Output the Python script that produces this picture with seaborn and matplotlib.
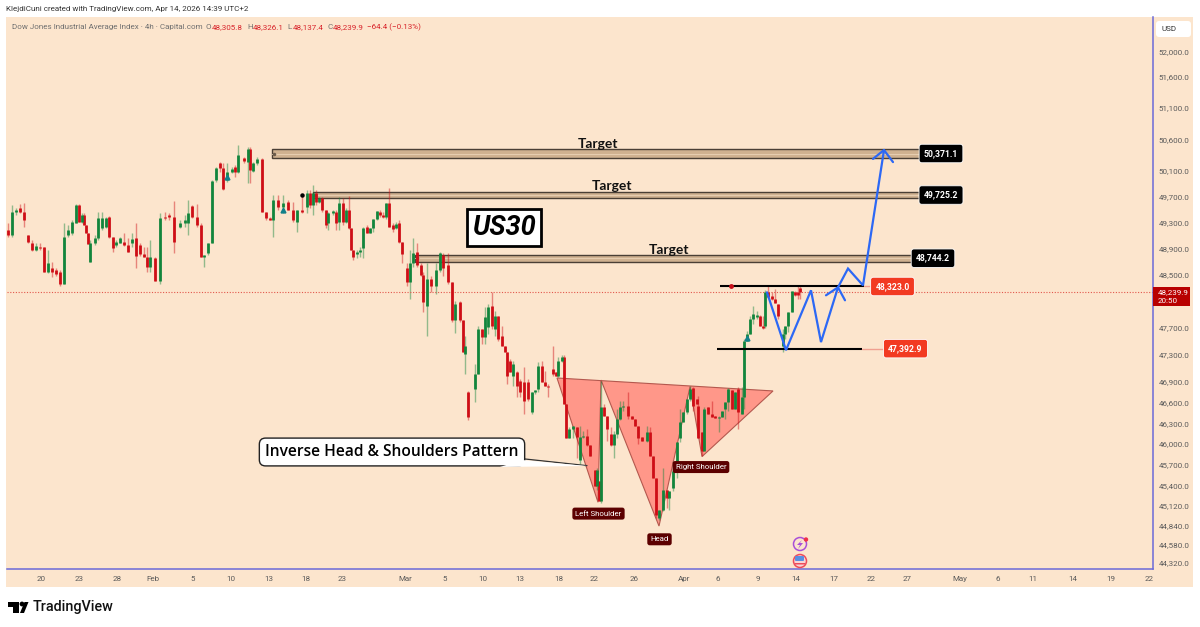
import matplotlib
matplotlib.use('Agg')
import matplotlib.pyplot as plt
from matplotlib.patches import Rectangle, Polygon, Circle, FancyBboxPatch
import seaborn as sns
import pandas as pd

# ---------------------------------------- #
#   US30 4h candles    #
# ---------------------------------------- #

# bar_x = session position along the time axis
bar_x = [8, 12, 16, 20, 24, 28, 32, 36, 40, 44,
         48, 52, 56, 60, 64, 68, 72, 76, 79, 82,
         84, 86, 88, 90, 95, 98, 102, 106, 109, 113,
         116, 120, 124, 128, 132, 136, 140, 144, 147, 150,
         155, 160, 165, 169, 174, 180, 185, 188, 192, 197,
         201, 204, 208, 212, 216, 220, 223, 227, 232, 235,
         238, 244, 248, 250, 253, 257, 262, 266, 270, 273,
         278, 283, 288, 293, 297, 302, 307, 310, 313, 316,
         319, 322, 326, 328, 333, 336, 339, 343, 346, 349,
         351, 353, 357, 360, 363, 367, 370, 373, 377, 380,
         383, 386, 389, 393, 396, 399, 402, 407, 410, 413,
         417, 421, 423, 427, 431, 436, 440, 443, 448, 452,
         455, 460, 463, 465, 468, 475, 478, 482, 485, 488,
         492, 495, 498, 502, 505, 507, 510, 513, 517, 520,
         524, 528, 532, 535, 538, 542, 545, 548, 553, 556,
         558, 562, 564, 566, 569, 573, 577, 580, 583, 587,
         590, 595, 597, 599, 601, 604, 607, 611, 614, 617,
         620, 623, 628, 632, 635, 638, 642, 647, 650, 653,
         656, 659, 663, 667, 669, 673, 677, 680, 683, 687,
         690, 693, 697, 698, 702, 704, 708, 712, 715, 719,
         722, 725, 728, 732, 735, 738, 742, 744, 747, 750,
         753, 757, 760, 763, 765, 768, 772, 775, 778, 783,
         785, 788, 792, 795, 798, 800]

opens = [49185, 49110, 49465, 49525, 49465, 49110, 48990, 48880, 48925, 48925,
         48535, 48610, 48580, 48535, 48355, 49110, 49140, 49295, 49570, 49310,
         49415, 49265, 49140, 48700, 48990, 49065, 49215, 49230, 49385, 49080,
         48960, 48990, 49005, 48960, 48990, 49065, 48960, 48820, 48775, 48625,
         48760, 48400, 49385, 49415, 49385, 49230, 49295, 49295, 49555, 49385,
         49265, 48775, 48835, 48990, 49960, 50225, 50150, 49960, 50085, 50165,
         50085, 50305, 50240, 50445, 50100, 50225, 50290, 49465, 49370, 49340,
         49650, 49540, 49615, 49495, 49310, 49495, 49540, 49755, 49570, 49755,
         49615, 49680, 49495, 49295, 49445, 49465, 49310, 49600, 49310, 49495,
         49215, 48880, 48820, 48850, 48910, 49230, 49140, 49215, 49355, 49465,
         49415, 49385, 49600, 49265, 49215, 49295, 49005, 48610, 48385, 48685,
         48850, 48655, 48490, 48025, 48430, 48325, 48580, 48805, 48655, 48385,
         47815, 48085, 47815, 47310, 46755, 46800, 47020, 47680, 47565, 47710,
         48025, 47680, 47875, 47575, 47430, 47340, 47210, 46990, 47050, 46915,
         46900, 46900, 46465, 46755, 46800, 47135, 46900, 46845, 47090, 47050,
         46990, 47210, 47270, 46580, 46080, 46220, 46250, 45765, 46105, 46120,
         45980, 45625, 45395, 45465, 45185, 46540, 46410, 46150, 45980, 46150,
         46365, 46540, 46555, 46410, 46365, 46265, 46105, 46050, 46180, 45835,
         45510, 44945, 45060, 45340, 45225, 45370, 45610, 46080, 46320, 46465,
         46655, 46815, 46655, 46555, 46180, 45895, 46540, 46440, 46410, 46380,
         46395, 46510, 46610, 46785, 46510, 46800, 46440, 46685, 47505, 47605,
         47830, 47860, 47875, 47725, 47725, 48235, 48175, 48130, 48055, 47430,
         47605, 47725, 47935, 48235, 48235, 48305.8]

highs = [49295, 49570, 49525, 49585, 49600, 49110, 49035, 48990, 48990, 48925,
         48880, 48700, 48610, 48580, 49295, 49265, 49340, 49585, 49585, 49445,
         49445, 49265, 49140, 49035, 49110, 49465, 49465, 49385, 49400, 49080,
         49035, 49080, 49140, 49065, 49140, 49295, 48990, 48925, 48925, 49035,
         48775, 49445, 49465, 49445, 49635, 49340, 49415, 49650, 49570, 49585,
         49295, 48805, 48990, 49960, 50165, 50240, 50225, 50225, 50165, 50195,
         50505, 50320, 50475, 50475, 50240, 50320, 50305, 49465, 49385, 49725,
         49725, 49725, 49650, 49615, 49495, 49725, 49805, 49805, 49880, 49805,
         49695, 49695, 49495, 49465, 49495, 49495, 49695, 49680, 49525, 49710,
         49215, 48880, 48880, 48925, 49230, 49265, 49215, 49355, 49480, 49495,
         49465, 49600, 49835, 49295, 49310, 49340, 49005, 48685, 48880, 49065,
         48990, 48685, 48535, 48685, 48475, 48685, 48850, 48835, 48835, 48385,
         48100, 48100, 47815, 47575, 46770, 47165, 47725, 47680, 48010, 48055,
         48235, 47950, 47875, 47725, 47430, 47340, 47240, 47210, 47065, 46945,
         47120, 46945, 46755, 46785, 47195, 47210, 47065, 46870, 47430, 47050,
         47270, 47295, 47295, 46580, 46250, 46265, 46250, 46265, 46195, 46220,
         45980, 45625, 45650, 45465, 46915, 46580, 46410, 46250, 46190, 46510,
         46625, 46625, 46755, 46410, 46365, 46265, 46105, 46265, 46250, 45835,
         45510, 45060, 45650, 45340, 45325, 45750, 46035, 46510, 46465, 46655,
         46845, 46830, 46655, 46700, 46180, 46540, 46540, 46625, 46410, 46410,
         46480, 46610, 46815, 46785, 46755, 46830, 46830, 47535, 47650, 47875,
         48025, 47950, 47890, 47875, 48265, 48325, 48235, 48280, 48055, 47680,
         47725, 47935, 48250, 48250, 48325, 48326.1]

lows = [49080, 49080, 49415, 49445, 49230, 48990, 48865, 48865, 48880, 48535,
        48520, 48460, 48475, 48325, 48355, 49080, 49110, 49295, 49310, 49295,
        49265, 49140, 48970, 48700, 48960, 49035, 49185, 49215, 49065, 48850,
        48925, 48990, 48945, 48850, 48925, 48610, 48790, 48775, 48550, 48535,
        48400, 48355, 49340, 49340, 48835, 49215, 49230, 49110, 49370, 49230,
        48775, 48625, 48805, 48990, 49925, 50085, 49805, 49925, 50070, 50005,
        50070, 50225, 49910, 49910, 50085, 50195, 49465, 49340, 49340, 49080,
        49495, 49445, 49495, 49310, 49155, 49445, 49445, 49525, 49415, 49570,
        49600, 49465, 49215, 49185, 49415, 49185, 49185, 49265, 49295, 49200,
        48880, 48730, 48760, 48775, 48760, 49140, 49140, 49155, 49340, 49385,
        49370, 49355, 49230, 49155, 49200, 48990, 48685, 48325, 48130, 48625,
        48625, 48475, 47935, 47585, 48235, 48205, 48550, 48475, 48355, 47785,
        47620, 47785, 47340, 47020, 46350, 46610, 47020, 47460, 47460, 47605,
        47680, 47575, 47505, 47430, 47340, 46870, 47050, 46845, 46685, 46685,
        46440, 46625, 46440, 46730, 46755, 46900, 46845, 46685, 46990, 46990,
        46975, 47195, 46580, 46080, 46080, 46080, 45795, 45720, 46080, 45965,
        45835, 45395, 45340, 45185, 45155, 46410, 46050, 45965, 45795, 46080,
        46350, 46480, 46365, 46365, 46265, 46005, 46050, 46035, 45835, 45510,
        44945, 44920, 45045, 45085, 45060, 45325, 45510, 46035, 46320, 46430,
        46625, 46480, 46580, 46080, 45835, 45895, 46440, 46395, 46380, 46180,
        46395, 46365, 46480, 46510, 46510, 46220, 46440, 46510, 47505, 47605,
        47755, 47830, 47725, 47680, 47695, 48145, 48115, 48070, 47830, 47340,
        47535, 47635, 47935, 48175, 48130, 48137.4]

closes = [49110, 49465, 49495, 49465, 49340, 49005, 48880, 48945, 48915, 48535,
          48685, 48535, 48505, 48355, 49080, 49185, 49310, 49570, 49310, 49415,
          49265, 49140, 48975, 48990, 49065, 49370, 49370, 49370, 49080, 48910,
          49005, 49065, 48960, 48850, 49050, 48790, 48820, 48775, 48625, 48775,
          48400, 49370, 49370, 49385, 49005, 49295, 49340, 49445, 49385, 49265,
          48775, 48805, 48990, 49940, 50150, 50150, 49820, 50085, 50130, 50085,
          50350, 50255, 50445, 50115, 50225, 50290, 49465, 49370, 49340, 49650,
          49540, 49600, 49495, 49340, 49495, 49465, 49755, 49570, 49755, 49615,
          49680, 49495, 49265, 49445, 49480, 49295, 49600, 49310, 49495, 49215,
          48880, 48775, 48850, 48880, 49215, 49140, 49215, 49355, 49480, 49415,
          49385, 49600, 49230, 49200, 49280, 49005, 48820, 48385, 48685, 48835,
          48655, 48490, 48085, 48430, 48325, 48580, 48835, 48610, 48385, 47815,
          48055, 47815, 47340, 47430, 46395, 47020, 47680, 47565, 47860, 48010,
          47725, 47875, 47535, 47430, 47340, 46990, 47050, 47165, 46845, 46755,
          46625, 46655, 46755, 46785, 47135, 46900, 46845, 46830, 47020, 46990,
          47210, 47270, 46580, 46080, 46220, 46265, 46105, 46105, 46120, 45980,
          45835, 45395, 45625, 45185, 46540, 46410, 46220, 45980, 46150, 46365,
          46540, 46555, 46410, 46365, 46265, 46080, 46050, 46180, 45835, 45510,
          44990, 45060, 45340, 45225, 45325, 45610, 46035, 46320, 46465, 46655,
          46800, 46555, 46580, 46080, 45895, 46510, 46440, 46395, 46380, 46395,
          46480, 46610, 46800, 46510, 46755, 46465, 46685, 47505, 47605, 47830,
          47905, 47890, 47725, 47695, 48235, 48160, 48130, 48070, 47875, 47605,
          47725, 47935, 48250, 48190, 48190, 48239.9]

# axis labels
price_ticks = [52000, 51600, 51100, 50600, 50100, 49700, 49300, 48900, 48500,
               47700, 47300, 46900, 46600, 46300, 46000, 45700, 45400, 45120,
               44840, 44580, 44320]
date_ticks = [41, 79, 117, 153, 193, 231, 269, 306, 342, 405, 445, 483, 520, 559,
              594, 634, 684, 718, 758, 796, 834, 871, 907, 960, 998, 1033, 1073,
              1111, 1149]
date_labels = ['20', '23', '28', 'Feb', '5', '10', '13', '18', '23', 'Mar', '5', '10',
               '13', '18', '22', '26', 'Apr', '6', '9', '14', '17', '22', '27', 'May',
               '6', '11', '14', '19', '22']

# drawings
zone_start = [272, 313, 415]
zone_end = [920, 920, 912]
zone_low = [50305, 49680, 48700]
zone_high = [50445, 49770, 48805]
zone_level = ['50,371.1', '49,725.2', '48,744.2']
target_x = [598, 612, 669]
target_price = [50520, 49865, 48880]

pattern_x = [557, 598, 601, 659, 690, 702, 773]
pattern_price = [46960, 45170, 46930, 44835, 46830, 45820, 46770]

path_x = [767, 786, 811, 821, 838, 848, 863, 884]
path_price = [48235, 47370, 48265, 47490, 48310, 48595, 48340, 50430]
head1_x = [826, 838, 845]
head1_price = [48190, 48310, 48115]
head2_x = [873, 884, 893]
head2_price = [50290, 50430, 50240]

signal_x = [227, 283, 747]
signal_price = [50005, 49495, 47550]

last_price = 48239.9
resist = 48323.0
support = 47392.9

PEACH = '#FCE5CD'
GREEN = '#12853C'
RED = '#CE0E16'
AXIS_BLUE = '#6A6AD8'
GREY = '#5A5A5A'
SMALL = 5.75

sns.set_theme(style='white')
plt.rcParams['font.family'] = ['Roboto', 'DejaVu Sans']

W, H = 1200, 627
fig = plt.figure(figsize=(W / 100, H / 100), dpi=100, facecolor='white')
inches = fig.dpi_scale_trans


def fx(px):
    return px / W


def fy(py):
    return 1 - py / H


def pt(px, py):
    # pixel position from the top left, in inches for dpi_scale_trans
    return px / 100, (H - py) / 100


def px_box(x0, y0, x1, y1, color, radius=0.0, z=9):
    patch = FancyBboxPatch(pt(x0, y1), (x1 - x0) / 100, (y1 - y0) / 100, transform=inches,
                           boxstyle=f'round,pad=0,rounding_size={radius}', fc=color, ec='none', zorder=z)
    fig.add_artist(patch)


def px_circle(x, y, r, fc, ec='none', lw=0.0, z=9):
    fig.add_artist(Circle(pt(x, y), r / 100, transform=inches, fc=fc, ec=ec, lw=lw, zorder=z))


# peach panel behind everything
px_box(6, 17, 1193, 587, PEACH, z=-5)

ax = fig.add_axes([fx(7), fy(569), fx(1153) - fx(7), fy(17) - fy(569)])
ax.patch.set_alpha(0)
ax.set_yscale('log')
ax.set_xlim(7, 1153)
ax.set_ylim(44237, 52572)

# Candles as long tables so seaborn can draw each wick and body
candles = pd.DataFrame({'x': bar_x, 'open': opens, 'high': highs, 'low': lows, 'close': closes})
candles['up'] = candles['close'] >= candles['open']
wicks = candles.melt(id_vars=['x', 'up'], value_vars=['high', 'low'], value_name='price')
bodies = candles.melt(id_vars=['x', 'up'], value_vars=['open', 'close'], value_name='price')
palette = {True: GREEN, False: RED}

# inverse head and shoulders underlay
ax.add_patch(Polygon(list(zip(pattern_x, pattern_price)), closed=True, fc='#FF9789',
                     ec='#B4584E', lw=0.8, zorder=1))

# target zones
for x0, x1, lo, hi, level in zip(zone_start, zone_end, zone_low, zone_high, zone_level):
    ax.add_patch(Rectangle((x0, lo), x1 - x0, hi - lo, fc='#CFB190', ec='#4A3F35', lw=1.0,
                           zorder=1.5))
    mid = (lo + hi) / 2
    ax.plot([x0, x1], [mid, mid], color='#E6CDB0', lw=0.8, zorder=1.6)
    ax.plot([x0 + 2], [mid], 'o', color='#6B5B4B', ms=1.5, zorder=1.7)
    ax.text(x1 + 21, mid, level, color='white', fontsize=6.2, weight='bold', ha='center',
            va='center', zorder=8,
            bbox=dict(boxstyle='round,pad=0.55,rounding_size=0.3', fc='black', ec='white', lw=0.6))

sns.lineplot(data=wicks, x='x', y='price', hue='up', units='x', estimator=None, palette=palette,
             lw=1.0, alpha=0.45, legend=False, ax=ax, zorder=2, solid_capstyle='butt')
sns.lineplot(data=bodies, x='x', y='price', hue='up', units='x', estimator=None, palette=palette,
             lw=2.0, legend=False, ax=ax, zorder=3, solid_capstyle='butt')

for x, price in zip(target_x, target_price):
    ax.text(x, price, 'Target', color='#111111', fontsize=10, weight='bold', ha='center',
            va='center', zorder=6, family=['Lato', 'DejaVu Sans'])

# signal markers and anchor dot
ax.plot(signal_x, signal_price, '^', color='#12808A', ms=3.5, ls='none', zorder=4)
ax.plot([302], [49725], 'o', color='black', ms=2.2, zorder=5)

# resistance and support lines
ax.plot([720, 864], [resist, resist], color='black', lw=1.5, zorder=5, solid_capstyle='butt')
ax.plot([864, 872], [resist, resist], color='#F0A090', lw=1.0, zorder=5)
ax.plot([731], [resist], 'o', color='#C8101A', ms=2.5, zorder=6)
ax.plot([717, 862], [support, support], color='black', lw=1.5, zorder=5, solid_capstyle='butt')
ax.plot([862, 885], [support, support], color='#F0A090', lw=1.0, zorder=5)
for x, price, txt in [(892.5, resist, '48,323.0'), (905.5, support, '47,392.9')]:
    ax.text(x, price, txt, color='white', fontsize=6.2, weight='bold', ha='center', va='center', zorder=8,
            bbox=dict(boxstyle='round,pad=0.55,rounding_size=0.3', fc='#F23A22', ec='white', lw=0.6))

# last price line
ax.axhline(last_price, color='#E2574C', lw=0.8, ls=(0, (1, 1.5)), zorder=2)

# projected path
ax.plot(path_x, path_price, color='#2C68F5', lw=1.6, zorder=7, solid_joinstyle='miter')
ax.plot(head1_x, head1_price, color='#2C68F5', lw=1.6, zorder=7)
ax.plot(head2_x, head2_price, color='#2C68F5', lw=1.6, zorder=7)

# pattern labels
for x, price, txt in [(598.5, 45010, 'Left Shoulder'), (659.5, 44650, 'Head'), (701, 45670, 'Right Shoulder')]:
    ax.text(x, price, txt, color='white', fontsize=5.7, ha='center', va='center', zorder=8,
            bbox=dict(boxstyle='round,pad=0.38,rounding_size=0.3', fc='#5C0000', ec='none'))

# axes dressing
ax.yaxis.tick_right()
ax.set_yticks(price_ticks)
ax.set_yticklabels([f'{p:,.1f}' for p in price_ticks])
ax.minorticks_off()
ax.set_xticks(date_ticks)
ax.set_xticklabels(date_labels)
ax.tick_params(axis='y', length=0, pad=4, labelsize=SMALL, labelcolor=GREY)
ax.tick_params(axis='x', length=0, pad=5, labelsize=SMALL, labelcolor=GREY)
ax.set_xlabel('')
ax.set_ylabel('')
for side in ['top', 'left']:
    ax.spines[side].set_visible(False)
for side in ['bottom', 'right']:
    ax.spines[side].set_color(AXIS_BLUE)
    ax.spines[side].set_linewidth(1.1)

# US30 tag
fig.text(fx(504), fy(227.5), 'US30', fontsize=19.5, weight='bold', style='italic', color='black',
         ha='center', va='center', zorder=10, family=['Roboto', 'DejaVu Sans'],
         bbox=dict(boxstyle='square,pad=0.2', fc='white', ec='black', lw=2.0))

# callout and its tail
fig.add_artist(Polygon([pt(500, 467), pt(522, 460), pt(587, 466)], closed=True, transform=inches,
                       fc='white', ec='none', zorder=11))
tail_x = [522, 587]
tail_price = [45790, 45690]
ax.plot(tail_x, tail_price, color='#333333', lw=0.9, zorder=12)
fig.text(fx(392), fy(452), 'Inverse Head & Shoulders Pattern', fontsize=11.2, weight=600, color='black',
         ha='center', va='center', zorder=10, family=['Open Sans', 'DejaVu Sans'],
         bbox=dict(boxstyle='round,pad=0.38,rounding_size=0.4', fc='white', ec='#222222', lw=1.0))

# header lines
fig.text(fx(6), fy(9), 'KlejdiCuni created with TradingView.com, Apr 14, 2026 14:39 UTC+2',
         fontsize=SMALL, color='#333333', va='center')
fig.text(fx(12), fy(27), 'Dow Jones Industrial Average Index · 4h · Capital.com', fontsize=SMALL,
         color='#707070', va='center')
for px, key, val in [(206, 'O', '48,305.8'), (247, 'H', '48,326.1'), (287, 'L', '48,137.4'), (327, 'C', '48,239.9')]:
    fig.text(fx(px), fy(27), key, fontsize=SMALL, color='#707070', va='center')
    fig.text(fx(px + 5.5), fy(27), val, fontsize=SMALL, color='#D8232A', va='center')
fig.text(fx(367), fy(27), '−64.4 (−0.13%)', fontsize=SMALL, color='#D8232A', va='center')

# USD tag and last price tag
px_box(1156, 21, 1191, 37, 'white', radius=0.03)
fig.text(fx(1161), fy(29), 'USD', fontsize=SMALL, color='#333333', va='center', zorder=10)
px_box(1153, 287, 1190, 306, '#B80000')
fig.text(fx(1158), fy(292.5), '48,239.9', fontsize=SMALL, color='white', va='center', zorder=10)
fig.text(fx(1158), fy(300.5), '20:50', fontsize=SMALL, color='white', va='center', zorder=10)

# event icons
px_circle(800, 544, 6.5, '#FCE5CD', ec='#A94FD8', lw=1.1)
fig.add_artist(Polygon([pt(802, 540), pt(797, 545), pt(800, 545), pt(798, 549), pt(803, 543), pt(800, 543)],
                       closed=True, transform=inches, fc='#A94FD8', ec='none', zorder=10))
px_circle(806, 539.5, 2.2, '#F0304A', z=10)
px_circle(800, 561, 6.5, '#F9D5D5', ec='#EE4B5A', lw=1.1)
px_box(795, 556, 804, 561, '#5B8FE0', radius=0.01, z=10)
px_box(795, 563, 805, 564.5, '#EE4B5A', z=10)

# TradingView mark in the footer
px_box(8, 602, 19, 607, 'black', z=5)
px_box(13, 607, 19, 613, 'black', z=5)
px_circle(22, 604, 2.4, 'black', z=5)
fig.add_artist(Polygon([pt(24.5, 602), pt(28.5, 602), pt(24, 613), pt(20, 613)], closed=True,
                       transform=inches, fc='black', ec='none', zorder=5))
fig.text(fx(33), fy(607), 'TradingView', fontsize=10.4, weight='medium', color='#111111', va='center')

fig.savefig('out.png', dpi=100)
